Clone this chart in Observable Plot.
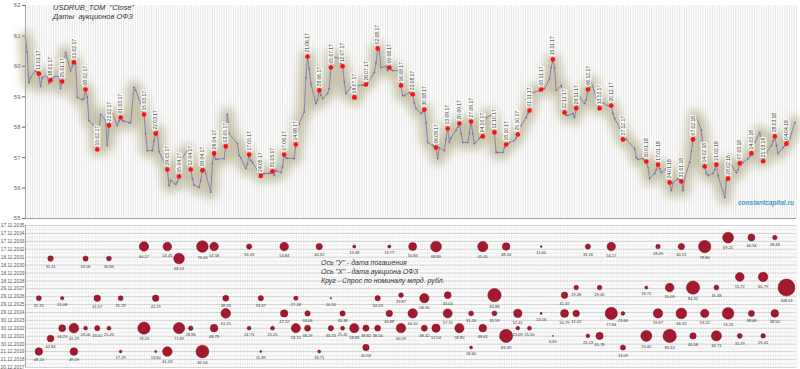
<!DOCTYPE html>
<html><head><meta charset="utf-8">
<script src="https://cdn.jsdelivr.net/npm/d3@7"></script>
<script src="https://cdn.jsdelivr.net/npm/@observablehq/plot@0.6"></script>
<style>
body{margin:0;background:#fff;font-family:"Liberation Sans",Arial,sans-serif;}
#wrap{position:relative;width:800px;height:369px;overflow:hidden;background:#fff}
#wrap svg{display:block}
.ov{position:absolute;white-space:pre;font-family:"Liberation Sans",Arial,sans-serif;font-style:italic;color:#333;line-height:1}
</style></head><body><div id="wrap"></div>
<script>
// ---- USDRUB_TOM close ----
const closeDates = ["2017-01-03","2017-01-04","2017-01-05","2017-01-06","2017-01-09","2017-01-10","2017-01-11","2017-01-12","2017-01-13","2017-01-16","2017-01-17","2017-01-18","2017-01-19","2017-01-20","2017-01-23","2017-01-24","2017-01-25","2017-01-26","2017-01-27","2017-01-30","2017-01-31",
"2017-02-01","2017-02-02","2017-02-03","2017-02-06","2017-02-07","2017-02-08","2017-02-09","2017-02-10","2017-02-13","2017-02-14","2017-02-15","2017-02-16","2017-02-17","2017-02-20","2017-02-21","2017-02-22","2017-02-24","2017-02-27","2017-02-28",
"2017-03-01","2017-03-02","2017-03-03","2017-03-06","2017-03-07","2017-03-09","2017-03-10","2017-03-13","2017-03-14","2017-03-15","2017-03-16","2017-03-17","2017-03-20","2017-03-21","2017-03-22","2017-03-23","2017-03-24","2017-03-27","2017-03-28","2017-03-29","2017-03-30","2017-03-31",
"2017-04-03","2017-04-04","2017-04-05","2017-04-06","2017-04-07","2017-04-10","2017-04-11","2017-04-12","2017-04-13","2017-04-14","2017-04-17","2017-04-18","2017-04-19","2017-04-20","2017-04-21","2017-04-24","2017-04-25","2017-04-26","2017-04-27","2017-04-28",
"2017-05-02","2017-05-03","2017-05-04","2017-05-05","2017-05-10","2017-05-11","2017-05-12","2017-05-15","2017-05-16","2017-05-17","2017-05-18","2017-05-19","2017-05-22","2017-05-23","2017-05-24","2017-05-25","2017-05-26","2017-05-29","2017-05-30","2017-05-31",
"2017-06-01","2017-06-02","2017-06-05","2017-06-06","2017-06-07","2017-06-08","2017-06-09","2017-06-13","2017-06-14","2017-06-15","2017-06-16","2017-06-19","2017-06-20","2017-06-21","2017-06-22","2017-06-23","2017-06-26","2017-06-27","2017-06-28","2017-06-29","2017-06-30",
"2017-07-03","2017-07-04","2017-07-05","2017-07-06","2017-07-07","2017-07-10","2017-07-11","2017-07-12","2017-07-13","2017-07-14","2017-07-17","2017-07-18","2017-07-19","2017-07-20","2017-07-21","2017-07-24","2017-07-25","2017-07-26","2017-07-27","2017-07-28","2017-07-31",
"2017-08-01","2017-08-02","2017-08-03","2017-08-04","2017-08-07","2017-08-08","2017-08-09","2017-08-10","2017-08-11","2017-08-14","2017-08-15","2017-08-16","2017-08-17","2017-08-18","2017-08-21","2017-08-22","2017-08-23","2017-08-24","2017-08-25","2017-08-28","2017-08-29","2017-08-30","2017-08-31",
"2017-09-01","2017-09-04","2017-09-05","2017-09-06","2017-09-07","2017-09-08","2017-09-11","2017-09-12","2017-09-13","2017-09-14","2017-09-15","2017-09-18","2017-09-19","2017-09-20","2017-09-21","2017-09-22","2017-09-25","2017-09-26","2017-09-27","2017-09-28","2017-09-29",
"2017-10-02","2017-10-03","2017-10-04","2017-10-05","2017-10-06","2017-10-09","2017-10-10","2017-10-11","2017-10-12","2017-10-13","2017-10-16","2017-10-17","2017-10-18","2017-10-19","2017-10-20","2017-10-23","2017-10-24","2017-10-25","2017-10-26","2017-10-27","2017-10-30","2017-10-31",
"2017-11-01","2017-11-02","2017-11-03","2017-11-07","2017-11-08","2017-11-09","2017-11-10","2017-11-13","2017-11-14","2017-11-15","2017-11-16","2017-11-17","2017-11-20","2017-11-21","2017-11-22","2017-11-23","2017-11-24","2017-11-27","2017-11-28","2017-11-29","2017-11-30",
"2017-12-01","2017-12-04","2017-12-05","2017-12-06","2017-12-07","2017-12-08","2017-12-11","2017-12-12","2017-12-13","2017-12-14","2017-12-15","2017-12-18","2017-12-19","2017-12-20","2017-12-21","2017-12-22","2017-12-25","2017-12-26","2017-12-27","2017-12-28","2017-12-29",
"2018-01-03","2018-01-04","2018-01-05","2018-01-08","2018-01-09","2018-01-10","2018-01-11","2018-01-12","2018-01-15","2018-01-16","2018-01-17","2018-01-18","2018-01-19","2018-01-22","2018-01-23","2018-01-24","2018-01-25","2018-01-26","2018-01-29","2018-01-30","2018-01-31",
"2018-02-01","2018-02-02","2018-02-05","2018-02-06","2018-02-07","2018-02-08","2018-02-09","2018-02-12","2018-02-13","2018-02-14","2018-02-15","2018-02-16","2018-02-19","2018-02-20","2018-02-21","2018-02-22","2018-02-26","2018-02-27","2018-02-28",
"2018-03-01","2018-03-02","2018-03-05","2018-03-06","2018-03-07","2018-03-09","2018-03-12","2018-03-13","2018-03-14","2018-03-15","2018-03-16","2018-03-19","2018-03-20","2018-03-21","2018-03-22","2018-03-23","2018-03-26","2018-03-27","2018-03-28","2018-03-29","2018-03-30",
"2018-04-02","2018-04-03","2018-04-04","2018-04-05","2018-04-06","2018-04-09"];
const closeValues = [60.92,60.46,59.47,59.63,59.85,59.80,59.76,59.34,59.63,59.70,59.44,59.54,59.63,59.66,59.67,59.27,59.50,60.09,60.46,59.85,60.00,
60.13,60.09,58.98,58.91,58.93,59.24,58.98,58.22,58.06,57.99,57.27,57.83,58.42,58.22,57.40,58.06,58.45,58.06,58.20,
58.32,58.22,58.20,58.15,58.15,59.31,59.21,58.80,58.55,58.42,57.79,57.23,57.23,57.56,57.79,57.89,57.20,56.84,56.75,56.61,56.08,56.25,
56.12,56.20,56.38,56.68,57.00,57.23,57.00,56.61,56.31,56.10,56.02,56.25,56.58,56.68,56.48,55.86,56.81,57.14,56.94,56.95,
56.97,57.37,58.42,57.79,57.46,57.07,57.00,56.64,56.80,57.10,56.91,56.84,56.58,56.50,56.40,56.45,56.48,56.48,56.50,56.55,
56.41,56.58,56.51,56.70,57.10,57.00,56.98,56.97,57.43,57.73,58.12,58.50,59.63,60.32,59.93,59.44,58.78,58.90,59.21,59.05,58.94,
59.11,59.27,59.96,60.36,60.30,60.26,60.10,60.00,59.50,59.11,59.31,59.15,58.98,58.94,59.37,59.38,59.40,59.40,59.45,59.54,59.80,
60.10,60.59,60.52,59.96,60.00,59.86,59.96,59.90,59.86,59.86,59.60,59.37,59.04,59.04,59.14,59.10,59.08,58.80,58.62,58.45,58.50,58.58,58.15,
57.50,57.40,57.35,57.33,56.97,57.33,57.23,57.60,57.96,57.50,57.66,57.90,58.00,58.12,57.79,57.50,57.50,57.80,58.19,57.79,57.46,
57.63,57.68,57.70,57.90,58.32,58.39,58.10,57.83,57.17,57.17,57.17,57.33,57.43,57.45,57.50,57.56,57.65,57.76,57.90,58.06,58.32,58.45,
58.55,58.98,59.14,59.20,59.24,59.27,59.27,59.60,59.96,60.23,59.96,59.21,59.37,59.04,58.48,58.39,58.39,58.45,58.32,58.62,58.88,
58.98,58.78,58.90,59.24,59.27,59.47,58.98,58.80,58.62,58.78,58.80,58.71,58.70,58.71,58.45,58.29,57.99,57.80,57.60,57.60,57.60,
57.30,57.00,56.94,56.97,56.90,56.87,56.68,56.31,56.48,56.60,56.77,56.64,56.51,56.64,56.40,56.18,55.92,56.18,56.31,56.25,56.22,
55.92,56.35,56.84,57.20,57.60,58.36,58.32,57.90,57.30,56.71,56.48,56.41,56.48,56.60,56.77,56.41,55.69,56.25,56.31,
56.81,56.74,56.51,56.60,56.81,56.84,56.97,57.05,57.14,57.46,57.50,57.83,57.46,56.88,57.00,57.17,57.40,57.55,57.70,57.40,57.14,
57.33,57.40,57.46,57.55,57.63,58.15];

// ---- OFZ auction dates (red points) ----
const auctionDates = ["2017-01-11","2017-01-18","2017-01-25","2017-02-01","2017-02-08","2017-02-15","2017-02-22","2017-03-01","2017-03-15","2017-03-22","2017-03-29","2017-04-05","2017-04-12","2017-04-19","2017-04-26","2017-05-03","2017-05-17","2017-05-24","2017-05-31","2017-06-07","2017-06-14","2017-06-21","2017-06-28","2017-07-05","2017-07-12","2017-07-19","2017-07-26","2017-08-02","2017-08-09","2017-08-16","2017-08-23","2017-08-30","2017-09-06","2017-09-13","2017-09-20","2017-09-27","2017-10-04","2017-10-11","2017-10-18","2017-10-25","2017-11-01","2017-11-08","2017-11-15","2017-11-22","2017-11-29","2017-12-06","2017-12-13","2017-12-20","2017-12-27","2018-01-10","2018-01-17","2018-01-24","2018-01-31","2018-02-07","2018-02-14","2018-02-21","2018-02-28","2018-03-07","2018-03-14","2018-03-21","2018-03-28","2018-04-04"];

// ---- Bubbles: auction date, maturity date, demand (bn RUB) ----
const bubbleAuction = ["2017-01-11","2017-01-11","2017-01-18","2017-01-18","2017-01-25","2017-01-25","2017-02-01","2017-02-01","2017-02-08","2017-02-08","2017-02-15","2017-02-15","2017-02-22","2017-02-22","2017-03-01","2017-03-01","2017-03-15","2017-03-15","2017-03-22","2017-03-22","2017-03-29","2017-03-29","2017-04-05","2017-04-05","2017-04-12","2017-04-19","2017-04-19","2017-04-26","2017-04-26","2017-05-03","2017-05-03","2017-05-17","2017-05-17","2017-05-24","2017-05-24","2017-05-31","2017-06-07","2017-06-07","2017-06-14","2017-06-14","2017-06-21","2017-06-21","2017-06-28","2017-06-28","2017-07-05","2017-07-05","2017-07-12","2017-07-12","2017-07-19","2017-07-19","2017-07-26","2017-07-26","2017-08-02","2017-08-02","2017-08-09","2017-08-09","2017-08-16","2017-08-16","2017-08-23","2017-08-23","2017-08-30","2017-08-30","2017-09-06","2017-09-06","2017-09-13","2017-09-13","2017-09-20","2017-09-27","2017-09-27","2017-10-04","2017-10-04","2017-10-11","2017-10-11","2017-10-18","2017-10-18","2017-10-25","2017-10-25","2017-11-01","2017-11-08","2017-11-08","2017-11-15","2017-11-22","2017-11-22","2017-11-29","2017-11-29","2017-12-06","2017-12-06","2017-12-13","2017-12-13","2017-12-20","2017-12-20","2017-12-27","2017-12-27","2018-01-10","2018-01-10","2018-01-17","2018-01-17","2018-01-24","2018-01-24","2018-01-31","2018-01-31","2018-02-07","2018-02-07","2018-02-14","2018-02-14","2018-02-21","2018-02-21","2018-02-28","2018-02-28","2018-03-07","2018-03-07","2018-03-14","2018-03-14","2018-03-21","2018-03-21","2018-03-28","2018-03-28","2018-04-04"];
const bubbleMaturity = ["2026-09-16","2019-12-25","2031-09-17","2021-08-18","2026-09-16","2022-12-07","2022-12-07","2019-12-25","2031-09-17","2022-12-07","2026-09-16","2022-12-07","2031-09-17","2022-12-07","2026-09-16","2019-12-25","2033-03-23","2022-12-07","2026-09-16","2019-12-25","2033-03-23","2019-12-25","2031-09-17","2022-12-07","2022-12-07","2033-03-23","2019-12-25","2033-03-23","2022-12-07","2026-09-16","2024-10-16","2033-03-23","2022-12-07","2026-09-16","2019-12-25","2022-12-07","2033-03-23","2024-10-16","2026-09-16","2022-12-07","2024-10-16","2022-12-07","2033-03-23","2019-12-25","2026-09-16","2022-12-07","2024-10-16","2022-12-07","2033-03-23","2022-12-07","2022-12-07","2020-06-27","2026-09-16","2022-12-07","2033-03-23","2024-10-16","2027-02-03","2022-12-07","2033-03-23","2024-10-16","2026-09-16","2022-12-07","2033-03-23","2022-12-07","2027-02-03","2024-10-16","2022-12-07","2024-10-16","2020-06-27","2033-03-23","2022-12-07","2027-02-03","2024-10-16","2033-03-23","2021-12-15","2024-10-16","2022-12-07","2022-12-07","2033-03-23","2024-10-16","2021-12-15","2027-02-03","2024-10-16","2028-01-19","2024-10-16","2033-03-23","2021-12-15","2028-01-19","2021-12-15","2033-03-23","2024-10-16","2024-10-16","2020-06-27","2028-01-19","2021-12-15","2033-03-23","2024-10-16","2028-01-19","2021-12-15","2033-03-23","2024-10-16","2028-01-19","2021-12-15","2033-03-23","2024-10-16","2028-01-19","2021-12-15","2034-05-10","2024-10-16","2029-05-23","2021-12-15","2034-05-10","2024-10-16","2029-05-23","2021-12-15","2034-05-10","2024-10-16","2028-01-19"];
const bubbleDemand = [31.91,48.24,35.11,42.84,21.08,44.23,61.29,49.09,33.06,24.00,41.57,33.01,30.86,25.45,31.29,17.29,60.17,78.24,41.29,13.60,54.45,61.03,68.13,71.89,28.86,74.03,82.04,54.58,48.73,38.18,61.25,33.43,24.73,33.37,11.89,25.25,54.84,47.22,27.18,58.15,34.06,38.29,40.32,18.71,10.10,33.53,33.38,25.41,19.38,58.88,38.82,40.58,34.03,38.04,19.77,40.88,29.87,60.29,50.84,60.10,58.90,38.42,68.89,52.04,43.04,57.70,58.80,31.20,18.60,65.45,48.41,84.88,31.59,48.44,83.49,52.41,23.09,25.50,11.60,13.16,6.69,41.37,50.79,29.48,41.42,33.16,23.13,29.45,45.78,54.17,77.84,23.66,33.09,19.71,70.40,28.49,59.67,55.09,85.12,40.01,68.32,84.32,40.58,78.80,53.22,31.38,64.71,69.21,74.23,55.72,31.79,44.34,38.48,60.79,29.41,28.48,48.50,108.01];

// ---- maturity axis tick labels ----
const maturityTicks = ["2017-12-20","2018-12-21","2019-12-21","2020-11-30","2021-11-30","2022-11-30","2023-11-30","2024-11-29","2025-11-29","2026-11-29","2027-11-29","2028-11-18","2029-11-18","2030-11-18","2031-11-18","2032-11-17","2033-11-17","2034-11-17","2035-11-17"];
const priceTicks = [55,56,57,58,59,60,61,62];

const parse = d3.utcParse("%Y-%m-%d");
const line = closeDates.map((d,i)=>({date: parse(d), close: closeValues[i]}));
const byDate = new Map(line.map(d=>[+d.date, d.close]));
const auctions = auctionDates.map(d=>({date: parse(d), close: byDate.get(+parse(d))})).filter(d=>d.close!=null);
const bubbles = bubbleAuction.map((d,i)=>({auction: parse(d), maturity: parse(bubbleMaturity[i]), demand: bubbleDemand[i]}));

const xDomain = [parse("2017-01-03"), parse("2018-04-10")];
// evenly spaced "trading day" grid (7/5 calendar days apart)
const step = 1.4 * 864e5;
const days = d3.range(0, Math.floor((xDomain[1] - xDomain[0]) / step) + 1).map(i => new Date(+xDomain[0] + i * step));
const fmtShort = d3.utcFormat("%d.%m.%y");
const fmtLong = d3.utcFormat("%d.%m.%Y");
const W = 800, ML = 25, MR = 4;
const font = "Liberation Sans, Arial, sans-serif";

const topChart = Plot.plot({
  width: W, height: 221,
  marginLeft: ML, marginRight: MR, marginTop: 5, marginBottom: 3,
  style: {fontFamily: font, fontSize: "6px", color: "#666", background: "transparent", overflow: "visible"},
  x: {type: "utc", domain: xDomain, axis: null},
  y: {domain: [55, 62], ticks: priceTicks, tickFormat: d=>d, tickSize: 3, tickPadding: 2, label: null},
  marks: [
    Plot.ruleX(days, {stroke: "#e4e4e4", strokeWidth: 0.9}),
    Plot.line(line, {x: "date", y: "close", stroke: "#a39a6c", strokeWidth: 14, strokeOpacity: 0.55}),
    Plot.line(line, {x: "date", y: "close", stroke: "#8c80b6", strokeWidth: 1}),
    Plot.dot(line, {x: "date", y: "close", r: 0.9, fill: "#7a6fa6"}),
    Plot.dot(auctions, {x: "date", y: "close", r: 2.3, fill: "#ff1010"}),
    Plot.text(auctions, {x: "date", y: "close", text: d=>fmtShort(d.date), rotate: -90, textAnchor: "start", dy: -4, fontSize: 5, fill: "#333", stroke: "#fbfbf6", strokeWidth: 2.6}),
    Plot.ruleX([xDomain[0]], {stroke: "#a0a0a0"}),
    Plot.ruleY([55], {stroke: "#a0a0a0"})
  ]
});

const rMax = 8.6, rDom = 110;
const labelMarks = d3.range(0, 12).map(b => Plot.text(bubbles.filter(d=>Math.floor(d.demand/10)===b), {
  x: "auction", y: "maturity", text: d=>d.demand.toFixed(2), fontSize: 4, fill: "#333",
  dy: (b*10+5)/rDom*rMax + 5
}));
const mt = maturityTicks.map(parse);
const midTicks = d3.pairs(mt).map(([a,b])=>new Date((+a + +b)/2));

const bottomChart = Plot.plot({
  width: W, height: 148,
  marginLeft: ML, marginRight: MR, marginTop: 4, marginBottom: 2,
  style: {fontFamily: font, fontSize: "4.8px", color: "#555", background: "transparent", overflow: "visible"},
  x: {type: "utc", domain: xDomain, axis: null},
  y: {type: "utc", domain: [mt[0], mt[mt.length-1]], ticks: mt, tickFormat: fmtLong, tickSize: 0, tickPadding: 1, label: null},
  r: {type: "linear", domain: [0, rDom], range: [0, rMax]},
  marks: [
    Plot.ruleX(days, {stroke: "#eeeeee", strokeWidth: 0.9}),
    Plot.ruleY(midTicks, {stroke: "#ececec"}),
    Plot.ruleY(mt, {stroke: "#d4d4d4"}),
    Plot.ruleX([xDomain[0]], {stroke: "#a0a0a0"}),
    Plot.dot(bubbles, {x: "auction", y: "maturity", r: "demand", fill: "#a3192e", stroke: "#6e0d1c", strokeWidth: 0.5}),
    ...labelMarks
  ]
});

const wrap = document.getElementById("wrap");
wrap.appendChild(topChart);
wrap.appendChild(bottomChart);

// soft glow under the price line
const ns = "http://www.w3.org/2000/svg";
const defs = document.createElementNS(ns, "defs");
defs.innerHTML = '<filter id="glow" x="-5%" y="-50%" width="110%" height="200%"><feGaussianBlur stdDeviation="5"/></filter>';
topChart.insertBefore(defs, topChart.firstChild);
const glowG = topChart.querySelector('g[aria-label="line"]');
if (glowG) glowG.setAttribute("filter", "url(#glow)");

function ov(text, left, topPx, css) {
  const d = document.createElement("div");
  d.className = "ov"; d.textContent = text;
  d.style.left = left + "px"; d.style.top = topPx + "px";
  d.style.cssText += css || "";
  wrap.appendChild(d);
}
ov('USDRUB_TOM  "Close"', 53, 4, "font-size:7.5px;");
ov('Даты  аукционов ОФЗ', 53, 13, "font-size:7.5px;");
ov('Ось "У" - дата погашения', 321, 259, "font-size:7px;");
ov('Ось "Х" - дата аукциона ОФЗ', 321, 268, "font-size:7px;");
ov('Круг - Спрос по номиналу млрд. рубл.', 321, 277, "font-size:7px;");
ov('constantcapital.ru', 738, 200, "font-size:6.5px;font-weight:bold;color:#3a9cc4;");
</script>
</body></html>
